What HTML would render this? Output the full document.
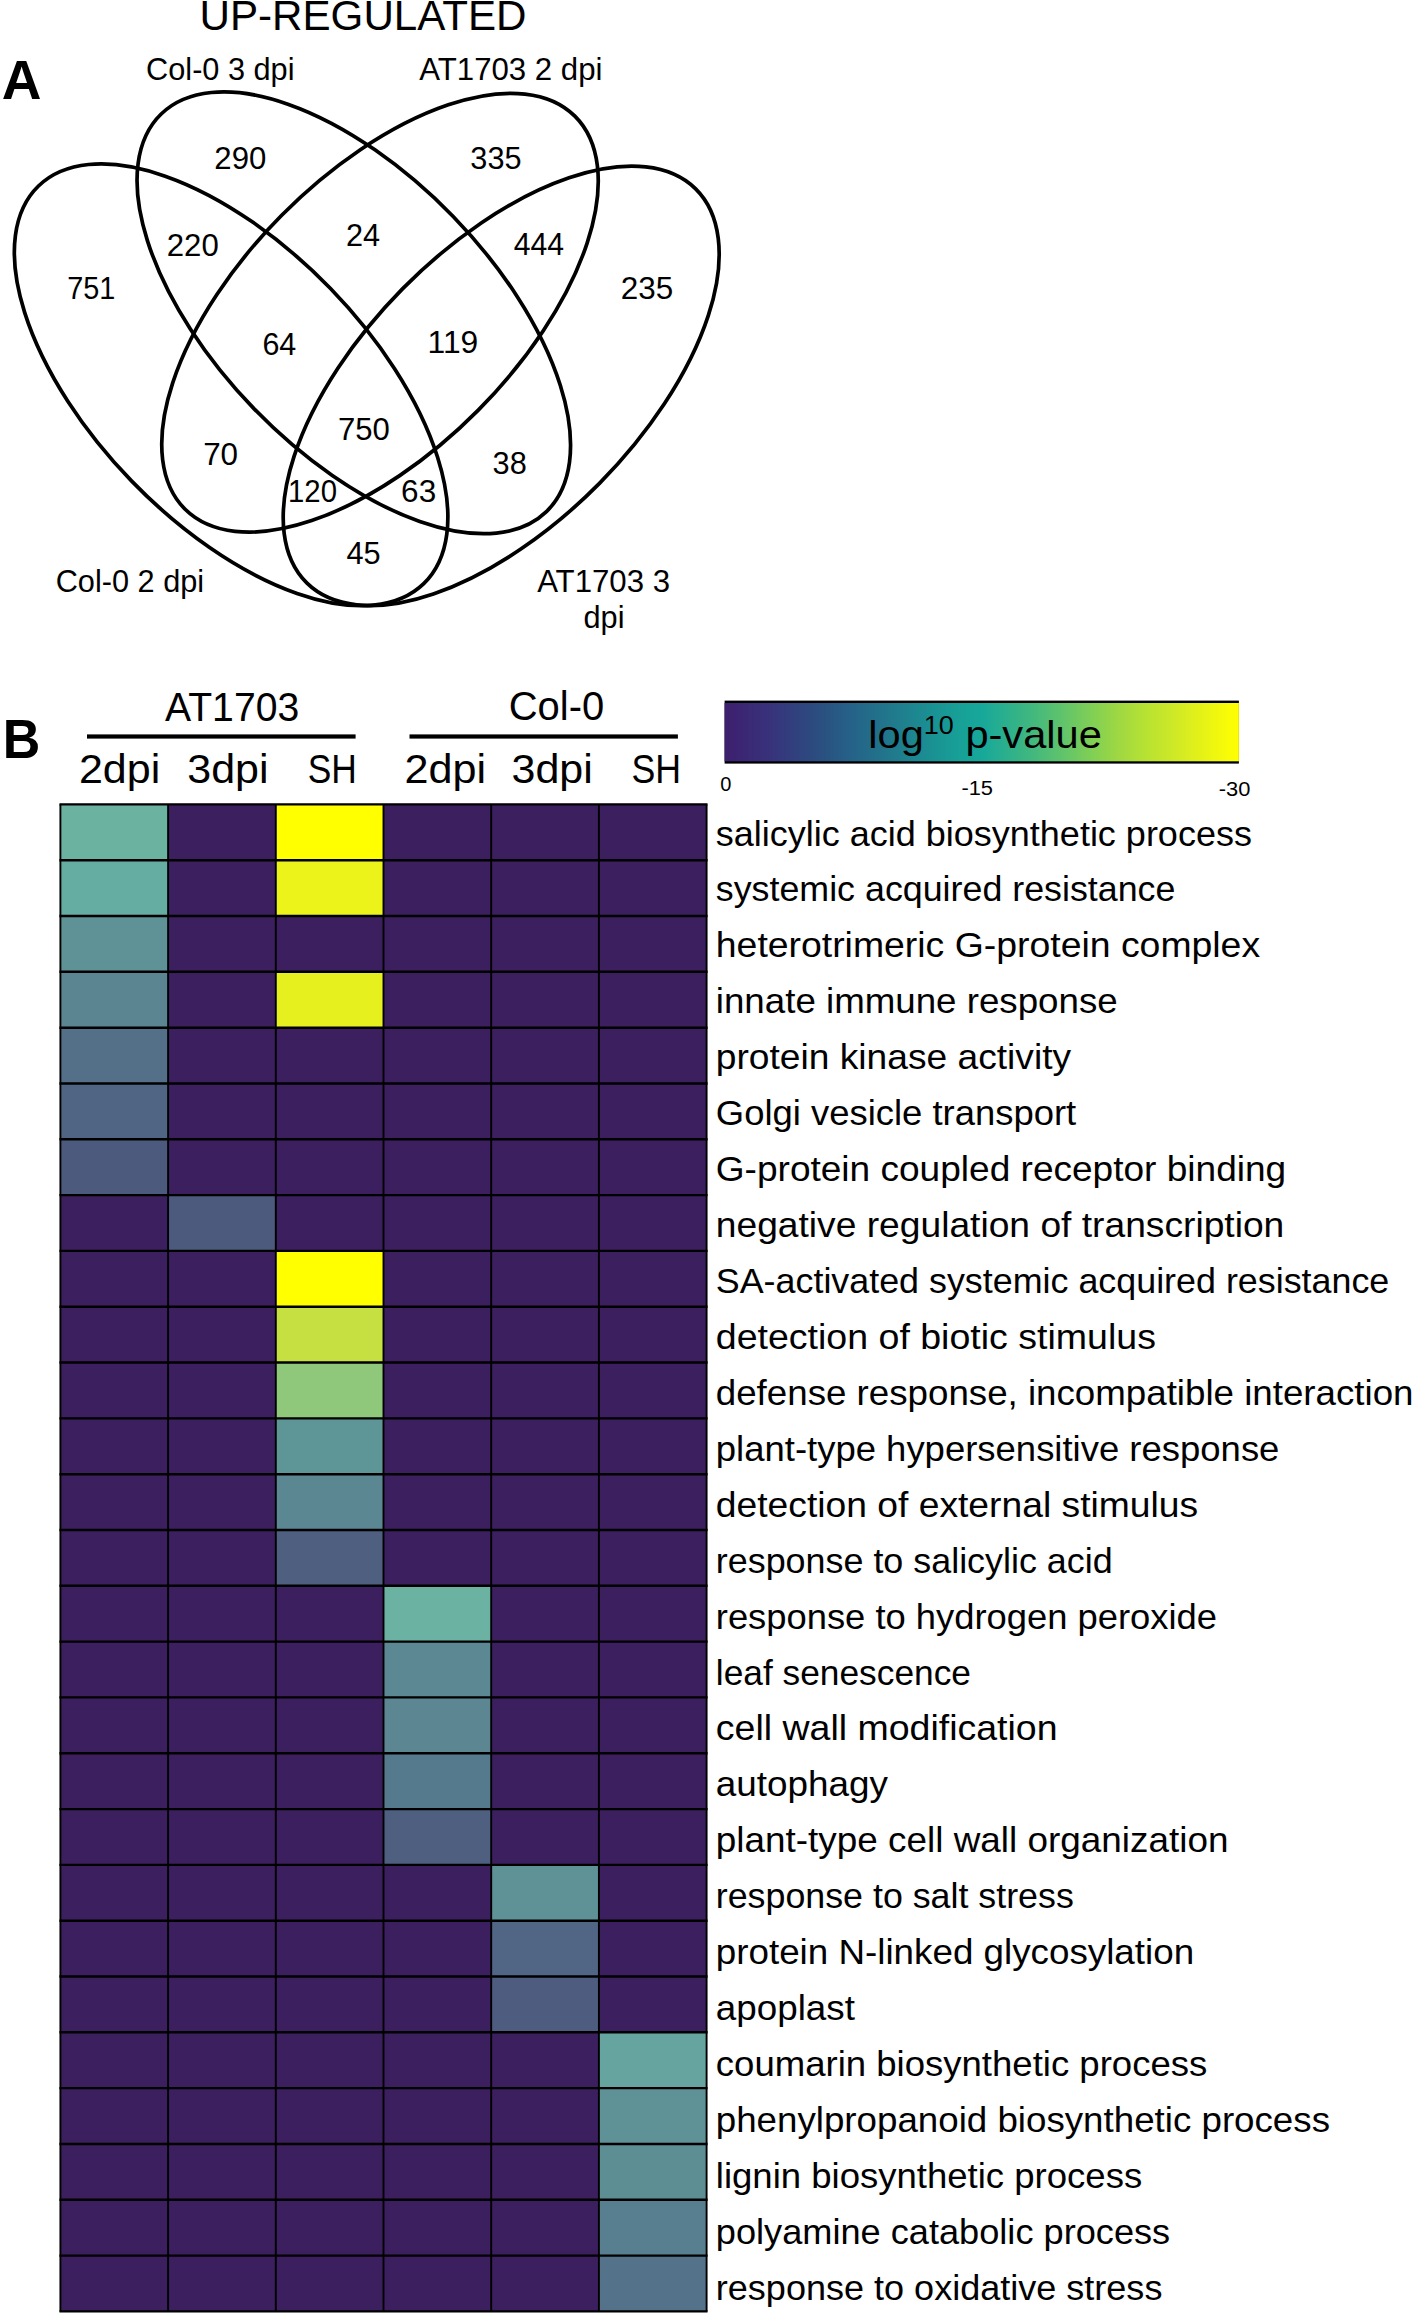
<!DOCTYPE html>
<html lang="en"><head><meta charset="utf-8"><title>Figure</title>
<style>html,body{margin:0;padding:0;background:#fff}svg{display:block}text{font-family:"Liberation Sans",sans-serif;fill:#000}.n{font-size:32px}.l{font-size:30.7px}.b{font-weight:bold;font-size:55px}.r{font-size:35px}.h{font-size:40.2px}.t{font-size:20px}</style></head><body>
<svg width="1416" height="2316" viewBox="0 0 1416 2316">
<rect width="1416" height="2316" fill="#fff"/>
<text x="363" y="30.3" font-size="42.15" text-anchor="middle">UP-REGULATED</text>
<text class="b" x="1.8" y="98.6">A</text>
<g fill="none" stroke="#000" stroke-width="3.7">
<ellipse cx="231.1" cy="384.8" rx="276.8" ry="138.4" transform="rotate(45.9 231.1 384.8)"/>
<ellipse cx="353.8" cy="312.8" rx="276.8" ry="138.4" transform="rotate(45.9 353.8 312.8)"/>
<ellipse cx="380.0" cy="312.7" rx="276.8" ry="138.4" transform="rotate(-45.25 380.0 312.7)"/>
<ellipse cx="501.2" cy="385.9" rx="276.8" ry="138.4" transform="rotate(-45.37 501.2 385.9)"/>
</g>
<text class="n" transform="translate(67.16 299.4) scale(0.903 1)">751</text>
<text class="n" transform="translate(214.34 169.4) scale(0.974 1)">290</text>
<text class="n" transform="translate(166.74 255.6) scale(0.974 1)">220</text>
<text class="n" transform="translate(345.97 246.1) scale(0.958 1)">24</text>
<text class="n" transform="translate(470.35 169.3) scale(0.959 1)">335</text>
<text class="n" transform="translate(513.74 254.7) scale(0.944 1)">444</text>
<text class="n" transform="translate(620.73 298.9) scale(0.982 1)">235</text>
<text class="n" transform="translate(262.38 355.1) scale(0.952 1)">64</text>
<text class="n" transform="translate(427.62 352.5) scale(0.994 1)">119</text>
<text class="n" transform="translate(337.94 439.7) scale(0.972 1)">750</text>
<text class="n" transform="translate(203.13 464.8) scale(0.982 1)">70</text>
<text class="n" transform="translate(492.55 473.7) scale(0.961 1)">38</text>
<text class="n" transform="translate(288.00 501.7) scale(0.918 1)">120</text>
<text class="n" transform="translate(401.12 501.7) scale(0.985 1)">63</text>
<text class="n" transform="translate(346.43 563.7) scale(0.961 1)">45</text>
<text class="l" x="220.3" y="80.3" text-anchor="middle">Col-0 3 dpi</text>
<text class="l" x="510.9" y="80" text-anchor="middle" style="font-size:31.2px">AT1703 2 dpi</text>
<text class="l" x="129.9" y="591.5" text-anchor="middle">Col-0 2 dpi</text>
<text class="l" x="603.6" y="591.8" text-anchor="middle" style="font-size:31.2px">AT1703 3</text>
<text class="l" x="604" y="627.9" text-anchor="middle">dpi</text>
<text class="b" transform="translate(2.8 757.9) scale(0.945 1)">B</text>
<text class="h" x="165.0" y="720.8" textLength="134.2" lengthAdjust="spacingAndGlyphs">AT1703</text>
<text class="h" x="508.7" y="720.0" textLength="95.5" lengthAdjust="spacingAndGlyphs">Col-0</text>
<rect x="87" y="734.4" width="268.6" height="4.2"/>
<rect x="409.5" y="734.4" width="268.4" height="4.2"/>
<text class="h" x="78.9" y="783.2" textLength="81.3" lengthAdjust="spacingAndGlyphs">2dpi</text>
<text class="h" x="187.3" y="783.2" textLength="81.3" lengthAdjust="spacingAndGlyphs">3dpi</text>
<text class="h" x="307.8" y="783.2" textLength="49.1" lengthAdjust="spacingAndGlyphs">SH</text>
<text class="h" x="404.4" y="783.2" textLength="81.6" lengthAdjust="spacingAndGlyphs">2dpi</text>
<text class="h" x="511.5" y="783.2" textLength="81.3" lengthAdjust="spacingAndGlyphs">3dpi</text>
<text class="h" x="631.4" y="783.2" textLength="49.6" lengthAdjust="spacingAndGlyphs">SH</text>
<rect x="60.4" y="804.4" width="646.2" height="1507.0" fill="#3c1f5f"/>
<rect x="60.4" y="804.4" width="107.7" height="55.8" fill="#6bb2a0"/>
<rect x="275.8" y="804.4" width="107.7" height="55.8" fill="#ffff00"/>
<rect x="60.4" y="860.2" width="107.7" height="55.8" fill="#65aca2"/>
<rect x="275.8" y="860.2" width="107.7" height="55.8" fill="#ebf31a"/>
<rect x="60.4" y="916.0" width="107.7" height="55.8" fill="#5e9296"/>
<rect x="60.4" y="971.8" width="107.7" height="55.8" fill="#5b8590"/>
<rect x="275.8" y="971.8" width="107.7" height="55.8" fill="#e6f01e"/>
<rect x="60.4" y="1027.7" width="107.7" height="55.8" fill="#546f88"/>
<rect x="60.4" y="1083.5" width="107.7" height="55.8" fill="#506583"/>
<rect x="60.4" y="1139.3" width="107.7" height="55.8" fill="#4c5a7e"/>
<rect x="168.1" y="1195.1" width="107.7" height="55.8" fill="#4c5a7e"/>
<rect x="275.8" y="1250.9" width="107.7" height="55.8" fill="#ffff00"/>
<rect x="275.8" y="1306.7" width="107.7" height="55.8" fill="#c5e040"/>
<rect x="275.8" y="1362.5" width="107.7" height="55.8" fill="#8fc77b"/>
<rect x="275.8" y="1418.4" width="107.7" height="55.8" fill="#5e9596"/>
<rect x="275.8" y="1474.2" width="107.7" height="55.8" fill="#5b8792"/>
<rect x="275.8" y="1530.0" width="107.7" height="55.8" fill="#4e5f80"/>
<rect x="383.5" y="1585.8" width="107.7" height="55.8" fill="#6bb2a3"/>
<rect x="383.5" y="1641.6" width="107.7" height="55.8" fill="#5c8893"/>
<rect x="383.5" y="1697.4" width="107.7" height="55.8" fill="#5c8792"/>
<rect x="383.5" y="1753.3" width="107.7" height="55.8" fill="#567a8d"/>
<rect x="383.5" y="1809.1" width="107.7" height="55.8" fill="#4e5f80"/>
<rect x="491.2" y="1864.9" width="107.7" height="55.8" fill="#5e9296"/>
<rect x="491.2" y="1920.7" width="107.7" height="55.8" fill="#516685"/>
<rect x="491.2" y="1976.5" width="107.7" height="55.8" fill="#4e5c7f"/>
<rect x="598.9" y="2032.3" width="107.7" height="55.8" fill="#65a49f"/>
<rect x="598.9" y="2088.1" width="107.7" height="55.8" fill="#5f9296"/>
<rect x="598.9" y="2144.0" width="107.7" height="55.8" fill="#5d8e94"/>
<rect x="598.9" y="2199.8" width="107.7" height="55.8" fill="#587f8f"/>
<rect x="598.9" y="2255.6" width="107.7" height="55.8" fill="#547289"/>
<path d="M59.45 804.4H707.55M59.45 860.2H707.55M59.45 916.0H707.55M59.45 971.8H707.55M59.45 1027.7H707.55M59.45 1083.5H707.55M59.45 1139.3H707.55M59.45 1195.1H707.55M59.45 1250.9H707.55M59.45 1306.7H707.55M59.45 1362.5H707.55M59.45 1418.4H707.55M59.45 1474.2H707.55M59.45 1530.0H707.55M59.45 1585.8H707.55M59.45 1641.6H707.55M59.45 1697.4H707.55M59.45 1753.3H707.55M59.45 1809.1H707.55M59.45 1864.9H707.55M59.45 1920.7H707.55M59.45 1976.5H707.55M59.45 2032.3H707.55M59.45 2088.1H707.55M59.45 2144.0H707.55M59.45 2199.8H707.55M59.45 2255.6H707.55M59.45 2311.4H707.55" stroke="#000" stroke-width="2.4" fill="none"/>
<path d="M60.4 804.4V2311.4M168.1 804.4V2311.4M275.8 804.4V2311.4M383.5 804.4V2311.4M491.2 804.4V2311.4M598.9 804.4V2311.4M706.6 804.4V2311.4" stroke="#000" stroke-width="1.9" fill="none"/>
<text class="r" x="715.8" y="845.5" textLength="536.1" lengthAdjust="spacingAndGlyphs">salicylic acid biosynthetic process</text>
<text class="r" x="715.8" y="901.4" textLength="459.6" lengthAdjust="spacingAndGlyphs">systemic acquired resistance</text>
<text class="r" x="715.8" y="957.4" textLength="544.3" lengthAdjust="spacingAndGlyphs">heterotrimeric G-protein complex</text>
<text class="r" x="715.8" y="1013.3" textLength="401.9" lengthAdjust="spacingAndGlyphs">innate immune response</text>
<text class="r" x="715.8" y="1069.2" textLength="355.3" lengthAdjust="spacingAndGlyphs">protein kinase activity</text>
<text class="r" x="715.8" y="1125.2" textLength="360.4" lengthAdjust="spacingAndGlyphs">Golgi vesicle transport</text>
<text class="r" x="715.8" y="1181.1" textLength="570.4" lengthAdjust="spacingAndGlyphs">G-protein coupled receptor binding</text>
<text class="r" x="715.8" y="1237.0" textLength="568.5" lengthAdjust="spacingAndGlyphs">negative regulation of transcription</text>
<text class="r" x="715.8" y="1292.9" textLength="673.5" lengthAdjust="spacingAndGlyphs">SA-activated systemic acquired resistance</text>
<text class="r" x="715.8" y="1348.9" textLength="440.1" lengthAdjust="spacingAndGlyphs">detection of biotic stimulus</text>
<text class="r" x="715.8" y="1404.8" textLength="697.7" lengthAdjust="spacingAndGlyphs">defense response, incompatible interaction</text>
<text class="r" x="715.8" y="1460.7" textLength="563.6" lengthAdjust="spacingAndGlyphs">plant-type hypersensitive response</text>
<text class="r" x="715.8" y="1516.7" textLength="482.3" lengthAdjust="spacingAndGlyphs">detection of external stimulus</text>
<text class="r" x="715.8" y="1572.6" textLength="396.9" lengthAdjust="spacingAndGlyphs">response to salicylic acid</text>
<text class="r" x="715.8" y="1628.5" textLength="501.2" lengthAdjust="spacingAndGlyphs">response to hydrogen peroxide</text>
<text class="r" x="715.8" y="1684.5" textLength="255.2" lengthAdjust="spacingAndGlyphs">leaf senescence</text>
<text class="r" x="715.8" y="1740.4" textLength="341.8" lengthAdjust="spacingAndGlyphs">cell wall modification</text>
<text class="r" x="715.8" y="1796.3" textLength="172.1" lengthAdjust="spacingAndGlyphs">autophagy</text>
<text class="r" x="715.8" y="1852.2" textLength="512.7" lengthAdjust="spacingAndGlyphs">plant-type cell wall organization</text>
<text class="r" x="715.8" y="1908.2" textLength="358.0" lengthAdjust="spacingAndGlyphs">response to salt stress</text>
<text class="r" x="715.8" y="1964.1" textLength="478.3" lengthAdjust="spacingAndGlyphs">protein N-linked glycosylation</text>
<text class="r" x="715.8" y="2020.0" textLength="139.1" lengthAdjust="spacingAndGlyphs">apoplast</text>
<text class="r" x="715.8" y="2076.0" textLength="491.5" lengthAdjust="spacingAndGlyphs">coumarin biosynthetic process</text>
<text class="r" x="715.8" y="2131.9" textLength="614.2" lengthAdjust="spacingAndGlyphs">phenylpropanoid biosynthetic process</text>
<text class="r" x="715.8" y="2187.8" textLength="426.4" lengthAdjust="spacingAndGlyphs">lignin biosynthetic process</text>
<text class="r" x="715.8" y="2243.8" textLength="454.4" lengthAdjust="spacingAndGlyphs">polyamine catabolic process</text>
<text class="r" x="715.8" y="2299.7" textLength="446.6" lengthAdjust="spacingAndGlyphs">response to oxidative stress</text>
<defs><linearGradient id="g" x1="0" x2="1" y1="0" y2="0">
<stop offset="0" stop-color="#3d1f6e"/>
<stop offset="0.08" stop-color="#39307a"/>
<stop offset="0.136" stop-color="#31407e"/>
<stop offset="0.19" stop-color="#2a5080"/>
<stop offset="0.24" stop-color="#266088"/>
<stop offset="0.295" stop-color="#22708a"/>
<stop offset="0.348" stop-color="#1f808e"/>
<stop offset="0.4" stop-color="#1a9093"/>
<stop offset="0.455" stop-color="#17a097"/>
<stop offset="0.5" stop-color="#17a89a"/>
<stop offset="0.55" stop-color="#2cb08c"/>
<stop offset="0.605" stop-color="#45b97c"/>
<stop offset="0.66" stop-color="#62c46a"/>
<stop offset="0.713" stop-color="#80cf55"/>
<stop offset="0.767" stop-color="#9fd842"/>
<stop offset="0.82" stop-color="#b8e232"/>
<stop offset="0.876" stop-color="#cfe926"/>
<stop offset="0.93" stop-color="#e6f216"/>
<stop offset="0.985" stop-color="#fbfd05"/>
<stop offset="1" stop-color="#ffff00"/>
</linearGradient></defs>
<rect x="724.6" y="700.6" width="514.3" height="63" fill="#000"/>
<rect x="724.6" y="703" width="514.3" height="58.3" fill="url(#g)"/>
<text x="868.3" y="747.6" font-size="38.5" textLength="233.5" lengthAdjust="spacingAndGlyphs">log<tspan font-size="25" dy="-14">10</tspan><tspan dy="14"> p-value</tspan></text>
<text class="t" x="720.3" y="790.6">0</text>
<text class="t" x="961.4" y="794.7" textLength="31.6" lengthAdjust="spacingAndGlyphs">-15</text>
<text class="t" x="1218.7" y="796" textLength="31.6" lengthAdjust="spacingAndGlyphs">-30</text>
</svg></body></html>
